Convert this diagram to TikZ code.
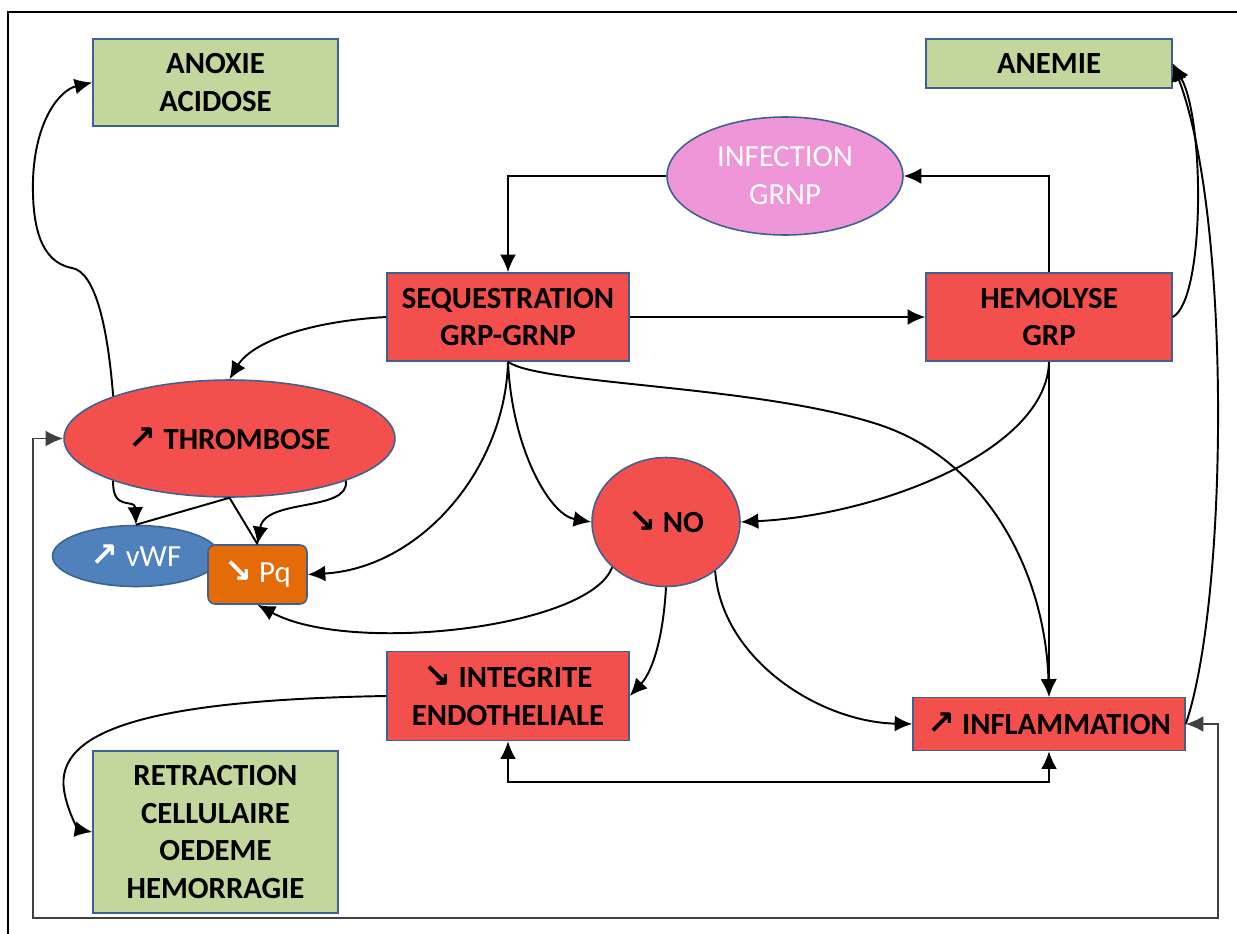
\documentclass[tikz,border=0pt]{standalone}
\usepackage{fontspec}
\setmainfont{Carlito}
\newfontfamily\arrowfont{DejaVu Sans}
\usepackage{xcolor}
\usepackage{tikz}
\usetikzlibrary{shapes.geometric,arrows.meta}

\definecolor{redc}{HTML}{F24F4D}
\definecolor{greenc}{HTML}{C3D69B}
\definecolor{bordc}{HTML}{3D628F}
\definecolor{pinkc}{HTML}{EE96D8}
\definecolor{bluec}{HTML}{4F81BD}
\definecolor{orangec}{HTML}{E36C09}

\newcommand{\hausse}{{\arrowfont\bfseries\fontsize{19}{19}\selectfont ↗}}
\newcommand{\baisse}{{\arrowfont\bfseries\fontsize{19}{19}\selectfont ↘}}

\begin{document}
\begin{tikzpicture}[x=0.02cm,y=-0.02cm,
    txt/.style={font=\fontsize{17.5}{21.5}\selectfont\bfseries, align=center, inner sep=1pt},
    box/.style={txt, draw=bordc, line width=0.9pt},
    redbox/.style={box, fill=redc},
    greenbox/.style={box, fill=greenc},
    arr/.style={-{Latex[length=10pt,width=9pt]}, line width=1.1pt},
    lin/.style={line width=1.1pt}]
\clip (0,0) rectangle (1237,933);
\draw[line width=1.2pt] (8,960) -- (8,12) -- (1260,12);

\node[greenbox, minimum width=4.9cm, minimum height=1.74cm] (anox) at (215.5,82.5) {ANOXIE\\ACIDOSE};
\node[greenbox, minimum width=4.92cm, minimum height=0.98cm] (anem) at (1049,63.5) {ANEMIE};
\node[txt, ellipse, draw=bordc, line width=0.9pt, fill=pinkc, text=white, font=\fontsize{17.5}{21.5}\selectfont, minimum width=4.72cm, minimum height=2.36cm] (inf) at (785,176) {INFECTION\\GRNP};
\node[redbox, minimum width=4.84cm, minimum height=1.76cm] (seq) at (508,317) {SEQUESTRATION\\GRP-GRNP};
\node[redbox, minimum width=4.92cm, minimum height=1.76cm] (hem) at (1049,317) {HEMOLYSE\\GRP};
\node[box, ellipse, fill=redc, minimum width=6.62cm, minimum height=2.34cm] (thr) at (229.5,438.5) {\hausse\ THROMBOSE};
\node[box, ellipse, fill=redc, minimum width=2.96cm, minimum height=2.58cm] (no) at (666,522) {\baisse\ NO};
\node[txt, ellipse, draw=bordc, line width=0.9pt, fill=bluec, text=white, font=\fontsize{17.5}{21.5}\selectfont, minimum width=3.34cm, minimum height=1.22cm] (vwf) at (136,556) {\hausse\ vWF};
\node[txt, rectangle, rounded corners=4pt, draw=bordc, line width=0.9pt, fill=orangec, text=white, font=\fontsize{17.5}{21.5}\selectfont, minimum width=1.98cm, minimum height=1.18cm] (pq) at (257.5,574.5) {\baisse\ Pq};
\node[redbox, minimum width=4.84cm, minimum height=1.78cm] (int) at (508,696) {\baisse\ INTEGRITE\\ENDOTHELIALE};
\node[redbox, minimum width=5.44cm, minimum height=1.06cm] (infl) at (1049,724) {\hausse\ INFLAMMATION};
\node[greenbox, minimum width=4.9cm, minimum height=3.24cm] (ret) at (215.5,832) {RETRACTION\\CELLULAIRE\\OEDEME\\HEMORRAGIE};

% infection loop
\draw[arr] (inf.west) -| (seq.north);
\draw[arr] (hem.north) |- (inf.east);
\draw[arr] (seq.east) -- (hem.west);

% from sequestration
\draw[arr] (seq.west) .. controls (300,322) and (250,345) .. (thr.north);
\draw[arr] (seq.south) .. controls (512,450) and (550,515) .. (no.west);
\draw[arr] (seq.south) .. controls (505,470) and (420,568) .. (pq.east);
\draw[arr] (seq.south) .. controls (540,385) and (760,385) .. (880,425) .. controls (985,460) and (1045,570) .. (infl.north);

% from hemolyse
\draw[arr] (hem.south) -- (infl.north);
\draw[arr] (hem.south) .. controls (1047,450) and (880,515) .. (no.east);
\draw[arr] (hem.east) .. controls (1205,300) and (1205,120) .. (anem.east);
\draw[arr] (infl.east) .. controls (1228,600) and (1232,220) .. (anem.east);

% from NO
\draw[arr] (no.south) .. controls (663,640) and (652,672) .. (int.east);
\draw[arr] (no.-45) .. controls (722,660) and (820,722) .. (infl.west);
\draw[arr] (no.-140) .. controls (590,628) and (350,655) .. (pq.south);

% endothelium
\draw[arr] (int.west) .. controls (150,700) and (55,730) .. (64,790) .. controls (68,815) and (80,830) .. (ret.west);
\draw[arr, {Latex[length=10pt,width=9pt]}-{Latex[length=10pt,width=9pt]}] (int.south) -- ++(0,41) -| (infl.south);

% thrombose
\draw[arr] (thr.160) .. controls (108,330) and (96,272) .. (72,268) .. controls (40,262) and (32,225) .. (33,180) .. controls (35,120) and (60,90) .. (anox.west);
\draw[arr] (thr.-160) .. controls (112,512) and (135,498) .. (vwf.north);
\draw[lin] (thr.south) -- (vwf.north);
\draw[lin] (thr.south) -- (pq.north);
\draw[arr] (thr.-20) .. controls (350,512) and (265,498) .. (pq.north);

% feedback
\draw[arr, {Latex[length=10pt,width=9pt]}-{Latex[length=10pt,width=9pt]}, black!75] (thr.west) -| (33,918) -| (1218,724) -- (infl.east);
\end{tikzpicture}
\end{document}
